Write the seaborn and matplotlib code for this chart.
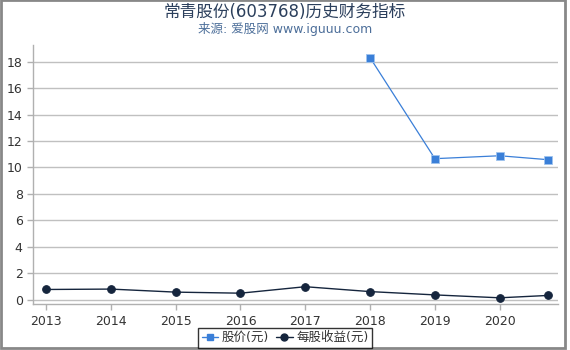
import matplotlib
matplotlib.use("Agg")
import matplotlib.pyplot as plt
import seaborn as sns
import pandas as pd
from matplotlib.lines import Line2D

years = [2013, 2014, 2015, 2016, 2017, 2018, 2019, 2020, 2020.75]
eps = [0.76, 0.79, 0.56, 0.48, 0.97, 0.60, 0.35, 0.13, 0.31]
price_years = [2018, 2019, 2020, 2020.75]
price = [18.3, 10.66, 10.88, 10.58]
xticks = [2013, 2014, 2015, 2016, 2017, 2018, 2019, 2020]
yticks = [0, 2, 4, 6, 8, 10, 12, 14, 16, 18]

sns.set_style("white")
plt.rcParams['font.family'] = ['DejaVu Sans', 'Noto Sans CJK SC']

price_c = "#3a7fd8"
eps_c = "#15253d"

fig = plt.figure(figsize=(5.7, 3.5), dpi=100)
ax = fig.add_axes([0.058, 0.131, 0.921, 0.740])

df_eps = pd.DataFrame({"x": years, "y": eps})
df_price = pd.DataFrame({"x": price_years, "y": price})
sns.lineplot(data=df_price, x="x", y="y", ax=ax, color=price_c, lw=0.9,
             marker="s", markersize=5.5, markeredgecolor="#9fc3ee", markeredgewidth=0.6)
sns.lineplot(data=df_eps, x="x", y="y", ax=ax, color=eps_c, lw=1.0,
             marker="o", markersize=5.5, markeredgecolor=eps_c)

ax.set_xlim(2012.8, 2020.9)
ax.set_ylim(-0.35, 19.25)
ax.set_xticks(xticks)
ax.set_xticklabels([str(t) for t in xticks])
ax.set_yticks(yticks)
ax.set_xlabel("")
ax.set_ylabel("")
ax.yaxis.grid(True, color="#c0c0c0", lw=1)
ax.xaxis.grid(False)
for s in ["top", "right"]:
    ax.spines[s].set_visible(False)
for s in ["left", "bottom"]:
    ax.spines[s].set_color("#b0b0b0")
    ax.spines[s].set_linewidth(1)
ax.tick_params(axis="both", colors="#333333", labelsize=9, length=4, width=1,
               direction="out", bottom=True, left=True)
ax.tick_params(axis="both", color="#b0b0b0")

fig.text(0.5, 0.967, "常青股份(603768)历史财务指标", ha="center", va="center",
         fontsize=12, color="#2b3f5c")
fig.text(0.5, 0.918, "来源: 爱股网 www.iguuu.com", ha="center", va="center",
         fontsize=9, color="#4d6f9a")

handles = [
    Line2D([], [], color=price_c, marker="s", markersize=5, lw=1, markeredgecolor=price_c),
    Line2D([], [], color=eps_c, marker="o", markersize=5, lw=1),
]
leg = fig.legend(handles, ["股价(元)", "每股收益(元)"], loc="center",
                 bbox_to_anchor=(0.5, 0.035), ncol=2, frameon=True, fancybox=False,
                 fontsize=9, handlelength=1.3, handletextpad=0.3, columnspacing=0.6,
                 borderpad=0.3, labelcolor="#333333")
leg.get_frame().set_edgecolor("#000000")
leg.get_frame().set_linewidth(1)

# figure border
border = plt.Rectangle((0.001, 0.005), 0.991, 0.994, transform=fig.transFigure,
                       fill=False, edgecolor="#888888", lw=2)
fig.add_artist(border)

fig.savefig("out.png", dpi=100)
